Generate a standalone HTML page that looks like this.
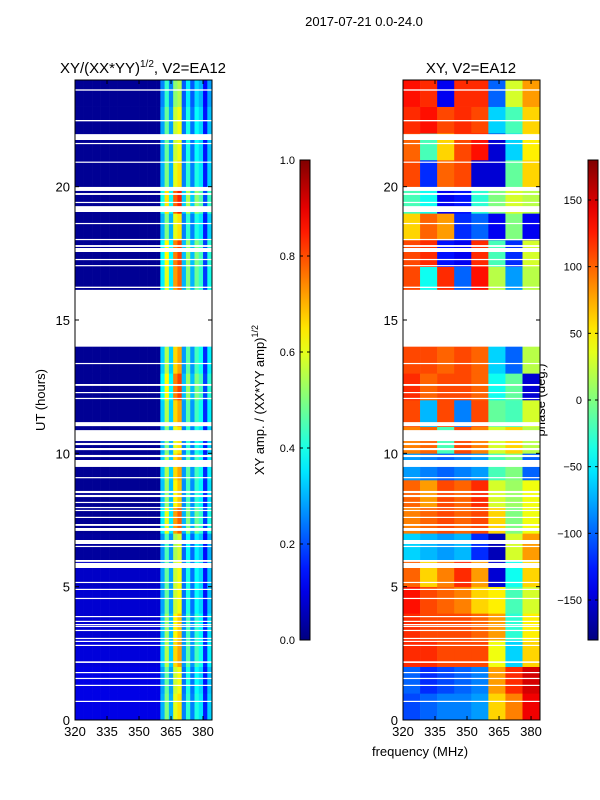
<!DOCTYPE html>
<html><head><meta charset="utf-8">
<style>
html,body{margin:0;padding:0;background:#fff;}
svg{display:block;font-family:"Liberation Sans","DejaVu Sans",sans-serif;}
</style></head>
<body>
<svg id="chart" width="600" height="800" viewBox="0 0 600 800" xmlns="http://www.w3.org/2000/svg">
<rect width="600" height="800" fill="#fff"/>
<text x="364" y="26" font-size="13" text-anchor="middle">2017-07-21 0.0-24.0</text>
<text x="143" y="73" font-size="15" text-anchor="middle">XY/(XX*YY)<tspan dy="-6" font-size="10">1/2</tspan><tspan dy="6">, V2=EA12</tspan></text>
<text x="471" y="73" font-size="15" text-anchor="middle">XY, V2=EA12</text>
<text transform="translate(45,400) rotate(-90)" font-size="13" text-anchor="middle">UT (hours)</text>
<text x="420" y="756" font-size="13" text-anchor="middle">frequency (MHz)</text>
<text transform="translate(264,400) rotate(-90)" font-size="13" text-anchor="middle">XY amp. / (XX*YY amp)<tspan dy="-6" font-size="9">1/2</tspan></text>
<text transform="translate(545,400) rotate(-90)" font-size="13" text-anchor="middle">phase (deg.)</text>
<g id="left"></g>
<g id="right"></g>
<g id="axes"></g>
</svg>
<script>
// ---- data ----
const hours = [0,1,2,3,4,5,6,7,8,9,10,11,12,13,14,15,16,17,18,19,20,21,22,23];
const ampBackground = [0.1,0.1,0.09,0.08,0.08,0.07,0.03,0.02,0.02,0.02,0.02,0.02,0.02,0.02,0.02,0.02,0.02,0.02,0.02,0.02,0.02,0.02,0.02,0.02];
const ampLineScale = [1.0,0.95,1.1,1.05,0.95,0.95,0.9,1.2,1.05,1.1,1.0,1.1,1.25,1.1,1,1,1.2,1.25,1.0,1.3,1.0,0.95,0.95,0.85];
const ampFreqProfile = [null,null,null,null,null,null,null,null,null,null,null,null,null,null,null,null,null,null,null,null,0.3,0.5,0.3,0.6,0.65,0.25,0.42,0.25,0.4,0.35,0.15,0.33];
const phaseGrid = [
 [-110,-100,-90,-90,-80,60,90,140],
 [-100,-120,-110,-100,-90,80,120,150],
 [120,120,110,110,110,40,-60,60],
 [120,110,110,110,100,80,-30,50],
 [130,110,100,90,60,50,-20,30],
 [100,60,90,120,80,-150,-40,60],
 [-60,-70,-80,-70,-120,-160,30,80],
 [90,100,110,100,110,60,0,40],
 [100,80,110,100,120,30,10,40],
 [-80,-90,-100,-90,-80,-20,0,-100],
 [90,100,-20,110,90,30,60,20],
 [110,-70,110,-90,110,-10,-20,30],
 [120,100,110,110,100,-40,-10,-150],
 [110,110,100,110,100,-60,-100,20],
 [110,110,110,110,110,-60,-100,20],
 [110,110,110,110,110,-60,-100,20],
 [110,-40,120,-100,130,20,-80,20],
 [110,120,-130,-140,120,-20,-120,30],
 [60,100,80,-120,-100,-140,0,-140],
 [-20,-40,-140,-130,-30,0,30,20],
 [110,-120,100,110,-150,-150,-10,60],
 [100,-20,60,110,130,-150,-60,50],
 [120,130,110,120,110,-60,-20,60],
 [130,120,-140,120,120,-100,30,80]];
const gapStart = [0.68,1.28,1.54,1.76,2.14,2.78,2.93,3.04,3.34,3.49,3.56,3.68,3.86,4.54,4.88,5.14,5.7,5.93,6.49,6.6,7.09,7.28,7.58,7.84,7.95,8.14,8.36,8.51,9.07,9.49,9.86,10.12,10.31,10.46,11.02,12.04,12.26,12.53,13.35,14.0,16.2,17.02,17.25,17.55,17.74,18.0,18.6,19.05,19.39,19.69,19.84,20.9,21.6,21.75,22.45,23.6];
const gapEnd   = [0.72,1.32,1.58,1.8,2.2,2.82,2.97,3.08,3.38,3.53,3.6,3.72,3.9,4.58,4.92,5.18,5.89,6.0,6.53,6.75,7.2,7.35,7.62,7.88,7.99,8.18,8.44,8.59,9.11,9.75,9.94,10.2,10.39,10.87,11.17,12.08,12.3,12.6,13.39,16.13,16.25,17.06,17.29,17.7,17.81,18.04,18.64,19.27,19.43,19.76,19.99,20.94,21.64,21.97,22.5,23.65];
const xTicks = [320,335,350,365,380];
const yTicks = [0,5,10,15,20];
const ampTicks = [0.0,0.2,0.4,0.6,0.8,1.0];
const phaseTicks = [-150,-100,-50,0,50,100,150];

// ---- scales ----
const Y0=720,Y1=80;
const yS = h => Y0 - (h/24)*(Y0-Y1);
const xL = f => 75 + (f-320)*(137/64.2);
const xR = f => 403 + (f-320)*(137/64.2);
const cbY = v => 640 - v*480;
const cbP = d => 400 - d*(480/360);

function jet(v){
  v=Math.max(0,Math.min(1,v));
  const c=t=>Math.round(255*Math.max(0,Math.min(1,t)));
  return `rgb(${c(1.5-Math.abs(4*v-3))},${c(1.5-Math.abs(4*v-2))},${c(1.5-Math.abs(4*v-1))})`;
}
const NS='http://www.w3.org/2000/svg';
function mk(tag,attrs,parent){const e=document.createElementNS(NS,tag);for(const k in attrs)e.setAttribute(k,attrs[k]);parent.appendChild(e);return e;}
const svg=document.getElementById('chart');
const L=document.getElementById('left'), R=document.getElementById('right'), A=document.getElementById('axes');

hours.forEach((h,i)=>{
  ampFreqProfile.forEach((p,j)=>{
    const f0=320+j*2, f1=f0+2;
    const v = p===null ? ampBackground[i] : Math.min(0.9,p*ampLineScale[i]);
    const r=mk('rect',{x:xL(f0),y:yS(h+1),width:xL(f1)-xL(f0)+0.3,height:yS(h)-yS(h+1)+0.3,fill:jet(v)},L);
    
    
  });
  phaseGrid[i].forEach((d,j)=>{
    const f0=320+j*8, f1=Math.min(384.2,f0+8);
    const r=mk('rect',{x:xR(f0),y:yS(h+1),width:xR(f1)-xR(f0)+0.3,height:yS(h)-yS(h+1)+0.3,fill:jet((d+180)/360)},R);
    
    
  });
});
gapStart.forEach((s,k)=>{
  const e=gapEnd[k];
  [[L,xL],[R,xR]].forEach(([g,xs])=>{
    const r=mk('rect',{x:xs(320),y:yS(e),width:137,height:Math.max(1.2,yS(s)-yS(e)),fill:'#fff'},g);
    
    
  });
});

[[75,'left'],[403,'right']].forEach(([x0,nm])=>{
  const fr=mk('rect',{x:x0,y:80,width:137,height:640,fill:'none',stroke:'#000','stroke-width':1},A);
  
  
  const xs = nm==='left'?xL:xR;
  xTicks.forEach(t=>{
    const x=xs(t);
    mk('line',{x1:x,x2:x,y1:720,y2:716,stroke:'#000'},A);
    mk('line',{x1:x,x2:x,y1:80,y2:84,stroke:'#000'},A);
    const tx=mk('text',{x:x,y:736,'font-size':13,'text-anchor':'middle'},A);
    tx.textContent=t;
    
    
  });
  yTicks.forEach(t=>{
    const y=yS(t);
    mk('line',{x1:x0,x2:x0+4,y1:y,y2:y,stroke:'#000'},A);
    mk('line',{x1:x0+137,x2:x0+133,y1:y,y2:y,stroke:'#000'},A);
    const tx=mk('text',{x:x0-5,y:y+5,'font-size':13,'text-anchor':'end'},A);
    tx.textContent=t;
    
    
  });
});

const defs=mk('defs',{},svg);
const grad=mk('linearGradient',{id:'jetg',x1:0,y1:1,x2:0,y2:0},defs);
for(let k=0;k<=20;k++){mk('stop',{offset:k/20,'stop-color':jet(k/20)},grad);}
[[300,'amp'],[588,'phase']].forEach(([x0,nm])=>{
  const r=mk('rect',{x:x0,y:160,width:10,height:480,fill:'url(#jetg)',stroke:'#000','stroke-width':1},A);
  
  
});
ampTicks.forEach(t=>{
  const y=cbY(t);
  mk('line',{x1:300,x2:303,y1:y,y2:y,stroke:'#000'},A);
  mk('line',{x1:310,x2:307,y1:y,y2:y,stroke:'#000'},A);
  const tx=mk('text',{x:295,y:y+4,'font-size':11,'text-anchor':'end'},A);
  tx.textContent=t.toFixed(1);
  
  
});
phaseTicks.forEach(t=>{
  const y=cbP(t);
  mk('line',{x1:588,x2:591,y1:y,y2:y,stroke:'#000'},A);
  mk('line',{x1:598,x2:595,y1:y,y2:y,stroke:'#000'},A);
  const tx=mk('text',{x:582,y:y+4,'font-size':11,'text-anchor':'end'},A);
  tx.textContent=t<0?'\u2212'+(-t):t;
  
  
});
</script>
</body></html>
